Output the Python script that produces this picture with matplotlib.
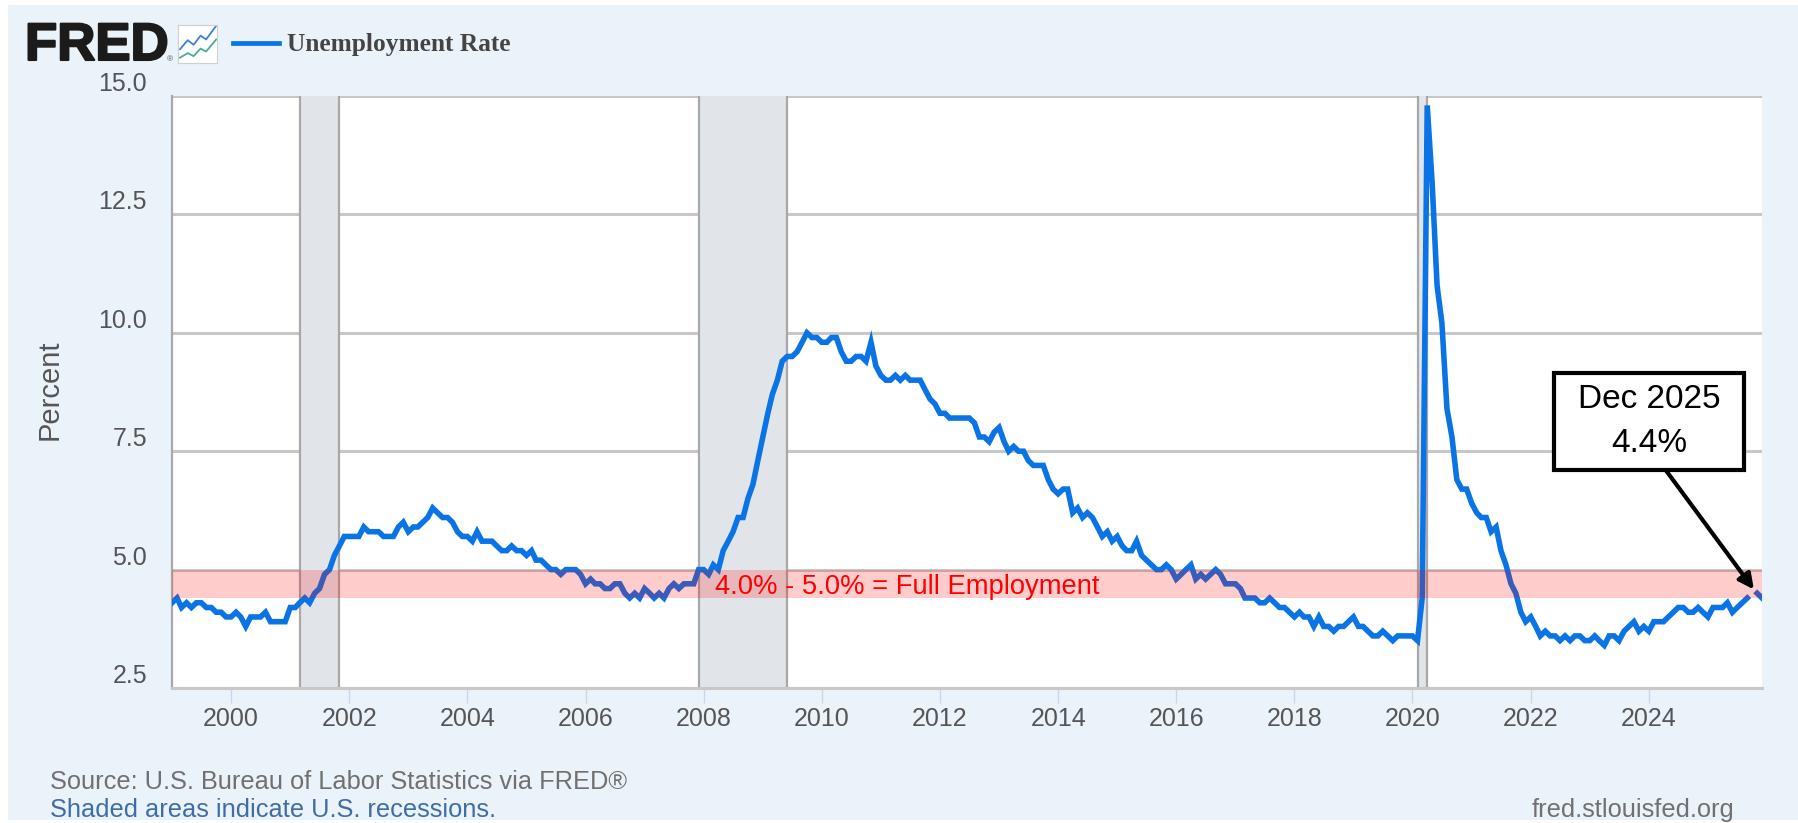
#!/usr/bin/env python3
import pandas as pd
import numpy as np
import matplotlib.pyplot as plt
import matplotlib.dates as mdates
import matplotlib.patheffects as pe
from matplotlib.patches import Rectangle

# monthly unemployment rate
y1999 = [4.3, 4.4, 4.2, 4.3, 4.2, 4.3, 4.3, 4.2, 4.2, 4.1, 4.1, 4.0]
y2000 = [4.0, 4.1, 4.0, 3.8, 4.0, 4.0, 4.0, 4.1, 3.9, 3.9, 3.9, 3.9]
y2001 = [4.2, 4.2, 4.3, 4.4, 4.3, 4.5, 4.6, 4.9, 5.0, 5.3, 5.5, 5.7]
y2002 = [5.7, 5.7, 5.7, 5.9, 5.8, 5.8, 5.8, 5.7, 5.7, 5.7, 5.9, 6.0]
y2003 = [5.8, 5.9, 5.9, 6.0, 6.1, 6.3, 6.2, 6.1, 6.1, 6.0, 5.8, 5.7]
y2004 = [5.7, 5.6, 5.8, 5.6, 5.6, 5.6, 5.5, 5.4, 5.4, 5.5, 5.4, 5.4]
y2005 = [5.3, 5.4, 5.2, 5.2, 5.1, 5.0, 5.0, 4.9, 5.0, 5.0, 5.0, 4.9]
y2006 = [4.7, 4.8, 4.7, 4.7, 4.6, 4.6, 4.7, 4.7, 4.5, 4.4, 4.5, 4.4]
y2007 = [4.6, 4.5, 4.4, 4.5, 4.4, 4.6, 4.7, 4.6, 4.7, 4.7, 4.7, 5.0]
y2008 = [5.0, 4.9, 5.1, 5.0, 5.4, 5.6, 5.8, 6.1, 6.1, 6.5, 6.8, 7.3]
y2009 = [7.8, 8.3, 8.7, 9.0, 9.4, 9.5, 9.5, 9.6, 9.8, 10.0, 9.9, 9.9]
y2010 = [9.8, 9.8, 9.9, 9.9, 9.6, 9.4, 9.4, 9.5, 9.5, 9.4, 9.8, 9.3]
y2011 = [9.1, 9.0, 9.0, 9.1, 9.0, 9.1, 9.0, 9.0, 9.0, 8.8, 8.6, 8.5]
y2012 = [8.3, 8.3, 8.2, 8.2, 8.2, 8.2, 8.2, 8.1, 7.8, 7.8, 7.7, 7.9]
y2013 = [8.0, 7.7, 7.5, 7.6, 7.5, 7.5, 7.3, 7.2, 7.2, 7.2, 6.9, 6.7]
y2014 = [6.6, 6.7, 6.7, 6.2, 6.3, 6.1, 6.2, 6.1, 5.9, 5.7, 5.8, 5.6]
y2015 = [5.7, 5.5, 5.4, 5.4, 5.6, 5.3, 5.2, 5.1, 5.0, 5.0, 5.1, 5.0]
y2016 = [4.8, 4.9, 5.0, 5.1, 4.8, 4.9, 4.8, 4.9, 5.0, 4.9, 4.7, 4.7]
y2017 = [4.7, 4.6, 4.4, 4.4, 4.4, 4.3, 4.3, 4.4, 4.3, 4.2, 4.2, 4.1]
y2018 = [4.0, 4.1, 4.0, 4.0, 3.8, 4.0, 3.8, 3.8, 3.7, 3.8, 3.8, 3.9]
y2019 = [4.0, 3.8, 3.8, 3.7, 3.6, 3.6, 3.7, 3.6, 3.5, 3.6, 3.6, 3.6]
y2020 = [3.6, 3.5, 4.4, 14.8, 13.2, 11.0, 10.2, 8.4, 7.8, 6.9, 6.7, 6.7]
y2021 = [6.4, 6.2, 6.1, 6.1, 5.8, 5.9, 5.4, 5.1, 4.7, 4.5, 4.1, 3.9]
y2022 = [4.0, 3.8, 3.6, 3.7, 3.6, 3.6, 3.5, 3.6, 3.5, 3.6, 3.6, 3.5]
y2023 = [3.5, 3.6, 3.5, 3.4, 3.6, 3.6, 3.5, 3.7, 3.8, 3.9, 3.7, 3.8]
y2024 = [3.7, 3.9, 3.9, 3.9, 4.0, 4.1, 4.2, 4.2, 4.1, 4.1, 4.2, 4.1]
y2025 = [4.0, 4.2, 4.2, 4.2, 4.3, 4.1, 4.2, 4.3, 4.4, np.nan, 4.5, 4.4]

YEARS = [y1999, y2000, y2001, y2002, y2003, y2004, y2005, y2006, y2007,
         y2008, y2009, y2010, y2011, y2012, y2013, y2014, y2015, y2016,
         y2017, y2018, y2019, y2020, y2021, y2022, y2023, y2024, y2025]

REC_START = ["2001-03-01", "2007-12-01", "2020-02-01"]
REC_END = ["2001-11-01", "2009-06-01", "2020-04-01"]
Y_TICKS = [2.5, 5.0, 7.5, 10.0, 12.5, 15.0]
X_TICK_YEARS = list(range(2000, 2026, 2))
BAND_LOW = 4.4
BAND_HIGH = 5.0

W, H = 1799, 823
BG = "#eaf2fa"
BLUE = "#0a74e6"
SANS = "Liberation Sans"

rate = np.concatenate(YEARS)
dates = pd.date_range("1999-01-01", periods=len(rate), freq="MS")


def fx(px):
    return px / W


def fy(py):
    return 1 - py / H


fig = plt.figure(figsize=(W / 100, H / 100), dpi=100, facecolor="white")
fig.add_artist(Rectangle((fx(8), 0.004), 1, fy(5) - 0.004, transform=fig.transFigure,
                         facecolor=BG, edgecolor="none", zorder=-5))

ax = fig.add_axes([fx(172), fy(688), fx(1590), (688 - 96) / H])
ax.set_facecolor("white")

for s, e in zip(REC_START, REC_END):
    ax.axvspan(pd.Timestamp(s), pd.Timestamp(e), facecolor="#e1e5ea", edgecolor="none", zorder=1)
    ax.axvline(pd.Timestamp(s), color="#a8a8a8", lw=1.6, zorder=2.5)
    ax.axvline(pd.Timestamp(e), color="#a8a8a8", lw=1.6, zorder=2.5)

ax.set_yticks(Y_TICKS)
ax.set_yticklabels([f"{v:.1f}" for v in Y_TICKS])
ax.grid(axis="y", color="#c8c8c8", lw=2.2, zorder=2)
ax.set_axisbelow(True)

ax.plot(dates, rate, color=BLUE, lw=4, solid_joinstyle="miter", zorder=3)

# red band goes over the line, so the line darkens inside it
ax.axhspan(BAND_LOW, BAND_HIGH, facecolor="#ff0000", alpha=0.2, edgecolor="none", zorder=4)

ax.set_xlim(dates[0], dates[-1])
ax.set_ylim(2.5, 15.0)

ax.set_xticks([pd.Timestamp(f"{y}-01-01") for y in X_TICK_YEARS])
ax.xaxis.set_major_formatter(mdates.DateFormatter("%Y"))
ax.tick_params(axis="x", length=11, width=1, color="#ccd6eb", labelsize=18,
               labelcolor="#555555", pad=3)
ax.tick_params(axis="y", length=0, labelsize=18, labelcolor="#555555", pad=18)
for lab in ax.get_xticklabels() + ax.get_yticklabels():
    lab.set_family(SANS)
for lab in ax.get_yticklabels():
    lab.set_va("bottom")

for side in ["top", "right"]:
    ax.spines[side].set_visible(False)
ax.spines["left"].set_color("#a8a8a8")
ax.spines["left"].set_linewidth(1.6)
ax.spines["bottom"].set_color("#c8c8c8")
ax.spines["bottom"].set_linewidth(2.2)

fig.text(fx(50), fy(390), "Percent", rotation=90, ha="center", va="center",
         family=SANS, fontsize=21, color="#555555")

ax.text(pd.Timestamp("2008-03-10"), 4.63, "4.0% - 5.0% = Full Employment", color="#ff0000",
        family=SANS, fontsize=19.7, va="center", ha="left", zorder=6)

# callout
ax.annotate("", xy=(pd.Timestamp("2025-10-12"), 4.58), xytext=(pd.Timestamp("2024-04-15"), 7.1),
            arrowprops=dict(arrowstyle="-|>,head_length=0.9,head_width=0.45", color="black",
                            lw=3, shrinkA=0, shrinkB=0), zorder=7)
ax.add_patch(Rectangle((0.8694, 0.368), 0.119, 0.1647, transform=ax.transAxes,
                       facecolor="white", edgecolor="black", lw=3, zorder=8))
ax.text(0.929, 0.4506, "Dec 2025\n4.4%", color="black", family=SANS, transform=ax.transAxes,
        fontsize=24, ha="center", va="center", linespacing=1.55, zorder=9)

# header
fig.text(fx(25), fy(46), "FRED", family=SANS, fontweight="bold", fontsize=38,
         color="#1b1b1b", ha="left", va="center",
         path_effects=[pe.withStroke(linewidth=1.5, foreground="#1b1b1b")])
fig.text(fx(167), fy(60), "®", family=SANS, fontsize=6, color="#555555", ha="left", va="center")

icon = fig.add_axes([fx(178), fy(63), fx(39), 38 / H])
icon.set_facecolor("white")
icon.set_xticks([])
icon.set_yticks([])
for sp in icon.spines.values():
    sp.set_color("#d0d0d0")
    sp.set_linewidth(0.8)
icon.set_xlim(0, 10)
icon.set_ylim(0, 10)
icon.plot([0.5, 2.5, 4, 5.8, 7.2, 9.8], [3.6, 6, 4.8, 7.2, 6.2, 9.8], color="#3b82d6", lw=1.3)
icon.plot([0.5, 2.5, 4, 5.8, 7.2, 9.8], [1.4, 2.6, 1.8, 3.8, 3.0, 6.2], color="#48ad98", lw=1.3)

fig.add_artist(plt.Line2D([fx(233), fx(279)], [fy(43), fy(43)], color=BLUE, lw=3.4))
fig.text(fx(287), fy(45), "Unemployment Rate", family="Liberation Serif", fontweight="bold",
         fontsize=18.3, color="#444444", ha="left", va="center")

# footer
fig.text(fx(50), fy(782), "Source: U.S. Bureau of Labor Statistics via FRED®", family=SANS,
         fontsize=18.3, color="#707070", ha="left", va="center")
fig.text(fx(50), fy(810), "Shaded areas indicate U.S. recessions.", family=SANS,
         fontsize=18.3, color="#3f6ea6", ha="left", va="center")
fig.text(fx(1734), fy(810), "fred.stlouisfed.org", family=SANS,
         fontsize=18.3, color="#707070", ha="right", va="center")

plt.savefig("out.png", dpi=100)
